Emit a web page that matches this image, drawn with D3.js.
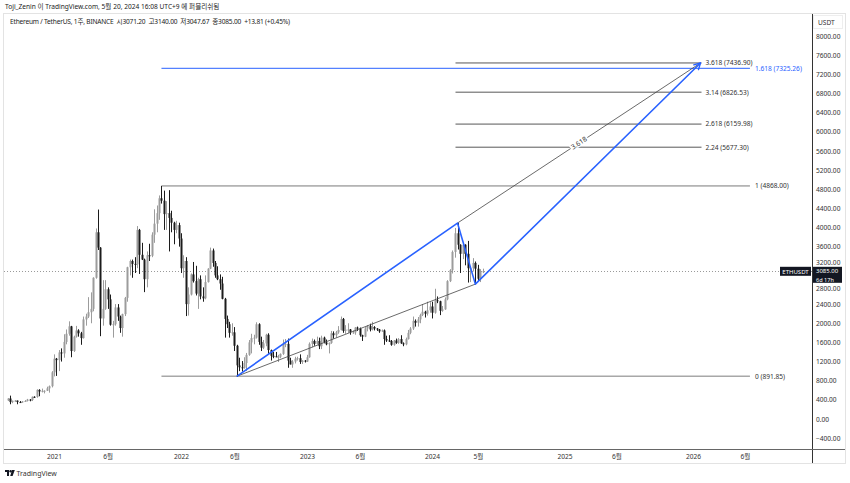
<!DOCTYPE html>
<html><head><meta charset="utf-8">
<script src="https://cdn.jsdelivr.net/npm/d3@7"></script>
<style>html,body{margin:0;padding:0;background:#fff;}svg{display:block;font-family:"Noto Sans","Noto Sans CJK KR",sans-serif;}</style>
</head><body><svg id="c" width="850" height="483"></svg>
<script>
// ---------- DATA ----------
const firstWeek = "2020-08-24";
const opens = [388,428,353,381,385,354,353,367,376,406,397,464,460,608,575,588,590,640,685,
975,1260,1230,1390,1370,1610,1780,1935,1420,1720,1850,1790,1690,2080,2140,2230,2300,2950,3900,3580,2100,2300,2710,2500,1970,1980,2330,2140,1900,2190,2530,3170,3300,3240,3230,3950,3430,3330,2920,3420,3410,3850,4080,4300,4610,4560,4280,4300,4200,4100,3950,4050,
3770,3150,3300,2400,2600,3020,2880,2620,2920,2560,2520,2860,3140,3520,3260,3000,2920,2830,2510,2090,1980,1800,1810,1530,1120,1080,1070,1170,1340,1600,1690,1700,1980,1610,1490,1580,1760,1440,1320,1310,1300,1300,1360,1570,1570,1220,1140,1200,1260,1270,1190,1220,
1200,1290,1570,1630,1570,1630,1520,1700,1600,1560,1590,1790,1750,1810,1860,2090,1840,1870,1870,1810,1810,1910,1890,1750,1720,1890,1940,1870,1920,1890,1870,1830,1850,1670,1640,1630,1550,1640,1590,1670,1580,1560,1670,1800,1890,2050,2010,2080,2170,2240,2200,2270,
2350,2220,2480,2460,2260,2290,2500,2880,3110,3490,3880,3640,3450,3640,3450,3150,3150,3260,3140,2930,3071.2];
const highs = [437,488,385,395,386,375,375,395,420,415,470,475,620,622,635,600,675,700,1000,
1350,1275,1440,1475,1770,1870,2040,1945,1740,1945,1875,1820,2140,2200,2545,2645,2960,3980,4375,3590,2900,2900,2750,2600,2050,2400,2400,2160,2200,2550,3180,3330,3330,3380,4030,3970,3680,3350,3500,3660,3900,4380,4460,4670,4868,4770,4550,4780,4350,4120,4140,4100,
3880,3420,3380,2750,3040,3280,3200,2950,3000,2750,3000,3150,3580,3560,3300,3190,3020,2970,2530,2160,2030,2000,1920,1550,1280,1210,1290,1380,1650,1780,1760,2020,2000,1720,1650,1780,1790,1450,1400,1400,1340,1370,1660,1670,1680,1280,1230,1300,1300,1350,1230,1230,
1340,1600,1680,1660,1720,1700,1740,1720,1660,1600,1840,1830,1840,1940,2140,2110,1960,2000,1880,1850,1920,1930,1910,1760,1920,1960,1990,2030,1940,1900,1880,1870,1870,1740,1750,1650,1650,1680,1690,1750,1600,1700,1860,1920,2140,2080,2130,2200,2400,2260,2450,2440,
2450,2720,2560,2470,2360,2540,2900,3130,3520,3990,4093,3650,3680,3650,3720,3190,3360,3290,3220,3130,3140];
const lows = [375,308,330,360,308,335,340,365,366,370,375,440,445,475,555,535,585,550,660,
890,900,1000,1200,1280,1560,1740,1290,1400,1700,1720,1550,1680,1950,2110,2000,2250,2930,3530,1730,1950,2280,2300,1950,1700,1950,2050,1800,1720,2150,2450,3000,2950,3050,3150,3030,3320,2650,2750,3300,3380,3680,3900,4160,4500,3950,3950,3500,3900,3650,3880,3600,
3050,2950,2150,2160,2580,2850,2580,2300,2500,2450,2500,2850,3130,3180,2950,2900,2700,2500,1700,1900,1700,1740,1420,880,1000,990,1050,1000,1320,1370,1560,1680,1550,1420,1460,1520,1360,1220,1270,1290,1190,1270,1340,1500,1070,1140,1070,1160,1220,1150,1150,1180,
1190,1280,1500,1530,1560,1460,1460,1580,1540,1370,1570,1680,1700,1780,1850,1800,1780,1800,1760,1780,1760,1840,1720,1630,1710,1830,1830,1850,1850,1840,1800,1820,1550,1610,1610,1530,1530,1570,1570,1570,1520,1540,1660,1770,1860,1930,1930,2000,2150,2120,2160,2220,
2100,2200,2420,2170,2240,2280,2480,2860,3040,3370,3540,3050,3340,3210,2850,2860,3080,2817,2880,2860,3047.67];
const closes = [428,353,381,385,354,353,367,376,406,397,464,460,608,575,588,590,640,685,975,
1260,1230,1390,1370,1610,1780,1935,1420,1720,1850,1790,1690,2080,2140,2230,2300,2950,3900,3580,2100,2300,2710,2500,1970,1980,2330,2140,1900,2190,2530,3170,3300,3240,3230,3950,3430,3330,2920,3420,3410,3850,4080,4300,4610,4560,4280,4300,4200,4100,3950,4050,3770,
3150,3300,2400,2600,3020,2880,2620,2920,2560,2520,2860,3140,3520,3260,3000,2920,2830,2510,2090,1980,1800,1810,1530,1120,1080,1070,1170,1340,1600,1690,1700,1980,1610,1490,1580,1760,1440,1320,1310,1300,1300,1360,1570,1570,1220,1140,1200,1260,1270,1190,1220,1200,
1290,1570,1630,1570,1630,1520,1700,1600,1560,1590,1790,1750,1810,1860,2090,1840,1870,1870,1810,1810,1910,1890,1750,1720,1890,1940,1870,1920,1890,1870,1830,1850,1670,1640,1630,1550,1640,1590,1670,1580,1560,1670,1800,1890,2050,2010,2080,2170,2240,2200,2270,2350,
2220,2480,2460,2260,2290,2500,2880,3110,3490,3880,3640,3450,3640,3450,3150,3150,3260,3140,2930,3071.2,3085];

const priceTicks = [8000,7600,7200,6800,6400,6000,5600,5200,4800,4400,4000,3600,3200,2800,2400,2000,1600,1200,800,400,0,-400];
const timeTickDates = ["2021-01-04","2021-06-07","2022-01-03","2022-06-06","2023-01-02","2023-06-05","2024-01-01","2024-05-06","2025-01-06","2025-06-02","2026-01-05","2026-06-01"];
const timeTickLabels = ["2021","6월","2022","6월","2023","6월","2024","5월","2025","6월","2026","6월"];

const fibBaseLevels = [{label:"1 (4868.00)", price:4868},{label:"0 (891.85)", price:891.85}];
const fibExtLevels = [
  {label:"3.618 (7436.90)", price:7436.9},
  {label:"3.14 (6826.53)", price:6826.53},
  {label:"2.618 (6159.98)", price:6159.98},
  {label:"2.24 (5677.30)", price:5677.30}];
const blueLevel = {label:"1.618 (7325.26)", price:7325.26};
// drawing anchors (date, price)
const anchorATH = {date:"2021-11-08", price:4868};
const anchorLow = {date:"2022-06-13", price:891.85};
const anchorHigh = {date:"2024-03-11", price:4093};
const anchorPullback = {date:"2024-04-29", price:2817};
const anchorTarget = {date:"2026-01-26", price:7436.9};
const levelEnd = "2026-06-15";
const lastPrice = 3085.00;

// ---------- SCALES ----------
const P = d3.timeParse("%Y-%m-%d");
const x = d3.scaleTime()
  .domain([P("2021-01-04"),P("2022-01-03"),P("2023-01-02"),P("2024-01-01"),P("2024-05-20"),P("2026-06-01")])
  .range([54,181,307,432,483,745]);
const y = d3.scaleLinear().domain([0,8000]).range([419,36]);

const svg = d3.select("#c");
const font = '"Noto Sans","Noto Sans CJK KR",sans-serif';

// frame
svg.append("rect").attr("x",3.5).attr("y",13.5).attr("width",842).attr("height",450).attr("fill","none").attr("stroke","#e3e3e3");

// header
svg.append("text").attr("x",5).attr("y",8.5).attr("font-size",6.6).attr("fill","#222")
  .text("Toji_Zenin 이 TradingView.com, 5월 20, 2024 16:08 UTC+9 에 퍼블리쉬됨");
svg.append("text").attr("x",10).attr("y",24).attr("font-size",6.6).attr("fill","#222")
  .text("Ethereum / TetherUS, 1주, BINANCE  시3071.20  고3140.00  저3047.67  종3085.00  +13.81 (+0.45%)")
  .attr("textLength",280).attr("lengthAdjust","spacing").style("white-space","pre");

// current price dotted line
svg.append("line").attr("x1",4).attr("x2",812).attr("y1",Math.round(y(lastPrice))+0.5).attr("y2",Math.round(y(lastPrice))+0.5)
  .attr("stroke","#9a9a9a").attr("stroke-dasharray","1,2");

// fib base levels (0, 1)
fibBaseLevels.forEach((d,i)=>{
  svg.append("line").attr("x1",x(P(anchorATH.date))).attr("x2",x(P(levelEnd)))
    .attr("y1",y(d.price)).attr("y2",y(d.price))
    .attr("stroke", i===0?"#7a7a7a":"#a8a8a8").attr("stroke-width", i===0?1:1.6);
  svg.append("text").attr("x",x(P(levelEnd))+5).attr("y",y(d.price)+2.4).attr("font-size",6.6).attr("fill","#333").text(d.label);
});
// fib extension levels
fibExtLevels.forEach(d=>{
  svg.append("line").attr("x1",x(P(anchorHigh.date))-2).attr("x2",x(P(anchorTarget.date))+1)
    .attr("y1",y(d.price)).attr("y2",y(d.price)).attr("stroke","#444").attr("stroke-width",0.9);
  svg.append("text").attr("x",x(P(anchorTarget.date))+5).attr("y",y(d.price)+2.4).attr("font-size",6.6).attr("fill","#333").text(d.label);
});
// blue 1.618 level
svg.append("line").attr("x1",x(P(anchorATH.date))).attr("x2",x(P(levelEnd)))
  .attr("y1",y(blueLevel.price)).attr("y2",y(blueLevel.price)).attr("stroke","#2962ff").attr("stroke-width",1);
svg.append("text").attr("x",x(P(levelEnd))+5).attr("y",y(blueLevel.price)+2.4).attr("font-size",6.6).attr("fill","#2962ff").text(blueLevel.label);

// candles
const dates = d3.timeMonday.range(P(firstWeek), d3.timeDay.offset(P("2024-05-20"),1));
const candles = dates.map((d,i)=>({date:d,o:opens[i],h:highs[i],l:lows[i],c:closes[i]}));
const g = svg.append("g");
const upCol = "#9c9c9c", dnCol = "#1c1c1c";
g.selectAll("line.w").data(candles).join("line")
  .attr("x1",d=>Math.round(x(d.date))+0.5).attr("x2",d=>Math.round(x(d.date))+0.5)
  .attr("y1",d=>y(d.h)).attr("y2",d=>y(d.l))
  .attr("stroke",d=>d.c>=d.o?upCol:dnCol).attr("stroke-width",1);
g.selectAll("rect.b").data(candles).join("rect")
  .attr("x",d=>Math.round(x(d.date))-0.5).attr("width",2)
  .attr("y",d=>y(Math.max(d.o,d.c))).attr("height",d=>Math.max(1,Math.abs(y(d.o)-y(d.c))))
  .attr("fill",d=>d.c>=d.o?upCol:dnCol);

// black trend lines
const pt = a=>[x(P(a.date)), y(a.price)];
const L = pt(anchorLow), H = pt(anchorHigh), B = pt(anchorPullback), T = pt(anchorTarget);
svg.append("line").attr("x1",L[0]).attr("y1",L[1]).attr("x2",B[0]).attr("y2",B[1]).attr("stroke","#444").attr("stroke-width",0.8);
svg.append("line").attr("x1",H[0]).attr("y1",H[1]).attr("x2",T[0]).attr("y2",T[1]).attr("stroke","#444").attr("stroke-width",0.8);
// label on the black projection line
const mx=(H[0]+T[0])/2, my=(H[1]+T[1])/2;
const ang = Math.atan2(T[1]-H[1], T[0]-H[0])*180/Math.PI;
const lg = svg.append("g").attr("transform",`translate(${mx},${my}) rotate(${ang})`);
lg.append("rect").attr("x",-10).attr("y",-4.5).attr("width",20).attr("height",8).attr("fill","#fff");
lg.append("text").attr("x",0).attr("y",2.4).attr("text-anchor","middle").attr("font-size",6.8).attr("fill","#333").text("3.618");

// blue path with arrow
svg.append("path").attr("d",d3.line()([L,H,B,T])).attr("fill","none").attr("stroke","#2962ff").attr("stroke-width",1.6).attr("stroke-linejoin","round");
const a2 = Math.atan2(T[1]-B[1], T[0]-B[0]);
const ah = 7;
[-0.5,0.5].forEach(s=>{
  svg.append("line").attr("x1",T[0]).attr("y1",T[1])
    .attr("x2",T[0]-ah*Math.cos(a2+s)).attr("y2",T[1]-ah*Math.sin(a2+s))
    .attr("stroke","#2962ff").attr("stroke-width",1.4).attr("stroke-linecap","round");
});

// right price axis
svg.append("rect").attr("x",812).attr("y",14).attr("width",33).attr("height",449).attr("fill","#fff");
svg.append("line").attr("x1",812.5).attr("x2",812.5).attr("y1",14).attr("y2",463).attr("stroke","#333");
svg.append("rect").attr("x",813.5).attr("y",15.5).attr("width",29).attr("height",13).attr("fill","#fff").attr("stroke","#eee");
svg.append("text").attr("x",818).attr("y",25).attr("font-size",6.6).attr("fill","#333").text("USDT");
const py = y(lastPrice);
const yAxis = d3.axisRight(y).tickValues(priceTicks).tickFormat(d3.format(".2f")).tickSize(0).tickPadding(4);
const ya = svg.append("g").attr("transform","translate(812,0)").call(yAxis);
ya.select(".domain").remove();
ya.selectAll("text").attr("font-size",6.6).attr("fill","#333").attr("font-family",font);
// labels next to the last-price box are nudged clear of it
ya.selectAll(".tick").filter(d=>Math.abs(y(d)-py)<16).select("text")
  .attr("dy", d=> y(d)<py ? "-0.15em" : "0.85em");

// price labels
svg.append("rect").attr("x",780).attr("y",py-4.5).attr("width",31).attr("height",9).attr("fill","#131722");
svg.append("text").attr("x",795.5).attr("y",py+2.2).attr("text-anchor","middle").attr("font-size",6).attr("fill","#fff").text("ETHUSDT");
svg.append("rect").attr("x",813).attr("y",py-4.5).attr("width",29).attr("height",16).attr("fill","#131722");
svg.append("text").attr("x",816).attr("y",py+1.8).attr("font-size",6).attr("fill","#fff").text("3085.00");
svg.append("text").attr("x",816).attr("y",py+10.2).attr("font-size",5.6).attr("fill","#fff").text("6d 17h");

// bottom time axis
svg.append("line").attr("x1",4).attr("x2",845).attr("y1",449.5).attr("y2",449.5).attr("stroke","#666");
const xAxis = d3.axisBottom(x).tickValues(timeTickDates.map(P)).tickFormat((d,i)=>timeTickLabels[i]).tickSize(0).tickPadding(4);
const xa = svg.append("g").attr("transform","translate(0,450)").call(xAxis);
xa.select(".domain").remove();
xa.selectAll("text").attr("font-size",6.6).attr("fill","#333").attr("font-family",font);

// footer logo
const lo = svg.append("g").attr("transform","translate(5,470)");
lo.append("path").attr("d","M0,0 H4 V6 H2 V2 H0 Z").attr("fill","#131722");
lo.append("circle").attr("cx",5.6).attr("cy",1.2).attr("r",1.2).attr("fill","#131722");
lo.append("path").attr("d","M7,0 H9.8 L7.6,6 H5.2 Z").attr("fill","#131722");
svg.append("text").attr("x",16.5).attr("y",476.3).attr("font-size",7).attr("fill","#333").text("TradingView");
</script></body></html>
